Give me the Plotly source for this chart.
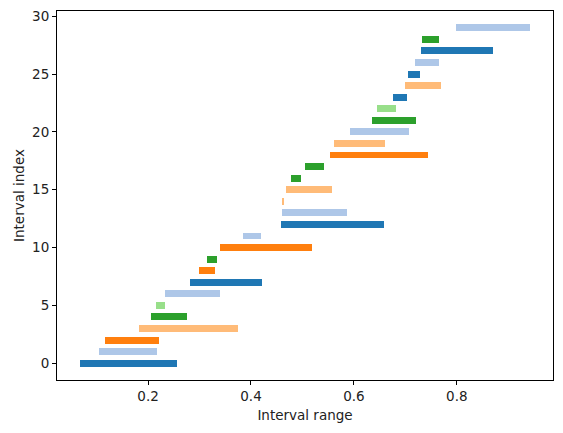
import plotly.graph_objects as go

# interval index, start, end, colour group
interval_index = list(range(30))
interval_start = [0.068, 0.105, 0.117, 0.183, 0.206, 0.216, 0.232, 0.282, 0.299, 0.315,
                  0.339, 0.384, 0.459, 0.461, 0.462, 0.468, 0.478, 0.505, 0.554, 0.562,
                  0.593, 0.635, 0.645, 0.676, 0.700, 0.705, 0.719, 0.731, 0.733, 0.799]
interval_end = [0.256, 0.218, 0.222, 0.375, 0.275, 0.232, 0.340, 0.422, 0.331, 0.333,
                0.518, 0.419, 0.659, 0.587, 0.465, 0.558, 0.498, 0.541, 0.745, 0.661,
                0.708, 0.720, 0.681, 0.704, 0.770, 0.728, 0.766, 0.871, 0.765, 0.943]
color_group = [0, 1, 2, 3, 4, 5, 1, 0, 2, 4,
               2, 1, 0, 1, 3, 3, 4, 4, 2, 3,
               1, 4, 5, 0, 3, 0, 1, 0, 4, 1]

palette = ["#1f77b4", "#aec7e8", "#ff7f0e", "#ffbb78", "#2ca02c", "#98df8a"]

lengths = [e - s for s, e in zip(interval_start, interval_end)]
colors = [palette[g] for g in color_group]

fig = go.Figure(go.Bar(
    x=lengths, y=interval_index, base=interval_start, orientation="h",
    width=0.6, marker=dict(color=colors, line=dict(width=0)),
))

font = dict(family="DejaVu Sans", size=13.5, color="#222")
axis_style = dict(showline=True, linecolor="black", linewidth=1, mirror=True,
                  ticks="outside", ticklen=4, tickcolor="black", showgrid=False,
                  zeroline=False, tickfont=font)

fig.update_layout(
    width=563, height=433,
    margin=dict(l=57, r=10, t=11, b=53, autoexpand=False),
    plot_bgcolor="white", paper_bgcolor="white",
    showlegend=False, font=font, bargap=0,
)
fig.update_xaxes(range=[0.023, 0.987], dtick=0.2, tick0=0, tickformat=".1f",
                 title=dict(text="Interval range", font=font, standoff=7), **axis_style)
fig.update_yaxes(range=[-1.45, 30.45], dtick=5, tick0=0,
                 title=dict(text="Interval index", font=font, standoff=4), **axis_style)

fig.write_html("out.html", config={"displayModeBar": False},
               post_script="document.body.style.margin='0';")
